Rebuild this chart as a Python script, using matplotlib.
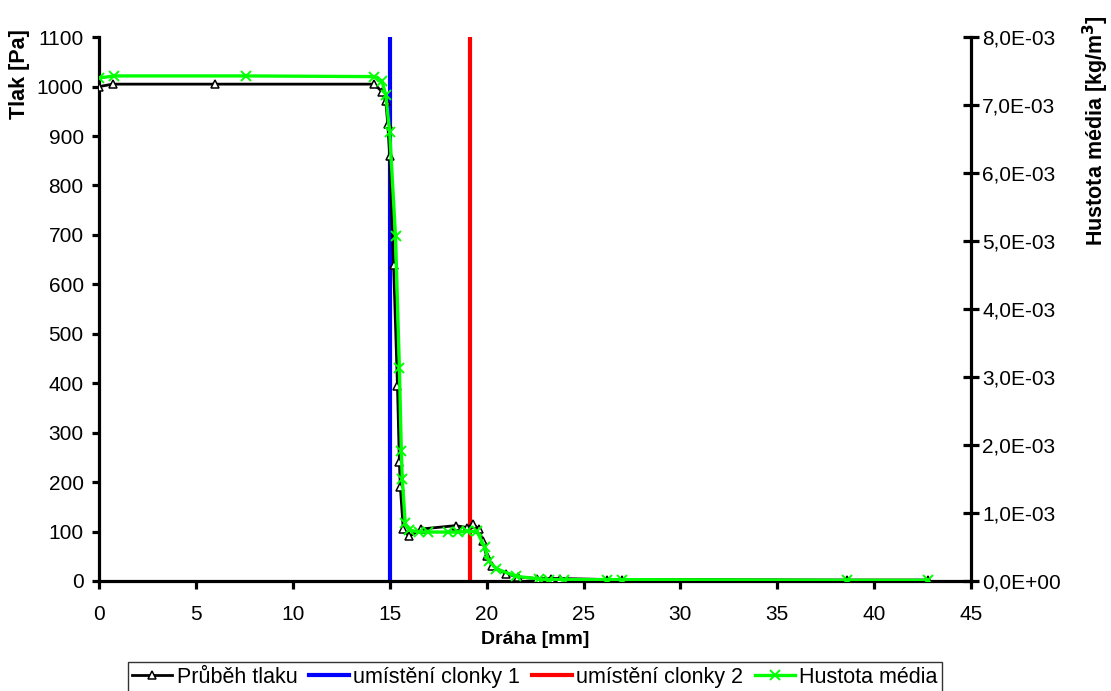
import matplotlib
matplotlib.use("Agg")
import matplotlib.pyplot as plt
from matplotlib.ticker import FuncFormatter, MultipleLocator

plt.rcParams['font.family'] = ['Liberation Sans', 'DejaVu Sans']

# Pressure (Průběh tlaku)
p_x = [0.0, 0.7, 6.0, 14.2, 14.6, 14.8, 14.9, 15.0, 15.2, 15.4, 15.5, 15.55,
       15.7, 16.0, 16.6, 18.4, 19.0, 19.3, 19.6, 19.8, 20.0, 20.3, 21.0, 21.6,
       22.6, 23.3, 23.8, 26.2, 27.0, 38.6, 42.8]
p_y = [1000, 1005, 1005, 1005, 990, 970, 925, 860, 640, 395, 240, 190,
       105, 90, 105, 112, 108, 115, 105, 80, 50, 30, 15, 8,
       5, 5, 5, 3, 3, 2, 2]

# Density (Hustota média)
d_x = [0.0, 0.8, 7.6, 14.2, 14.6, 14.8, 15.0, 15.3, 15.5, 15.6, 15.65, 15.8,
       16.0, 16.5, 17.0, 18.0, 18.5, 19.0, 19.5, 19.9, 20.1, 20.5, 21.5, 22.7,
       23.2, 24.0, 26.2, 27.0, 38.6, 42.8]
d_y = [7.40e-3, 7.43e-3, 7.43e-3, 7.42e-3, 7.35e-3, 7.15e-3, 6.60e-3, 5.07e-3,
       3.13e-3, 1.91e-3, 1.50e-3, 0.85e-3, 0.75e-3, 0.72e-3, 0.72e-3, 0.72e-3,
       0.72e-3, 0.73e-3, 0.73e-3, 0.50e-3, 0.30e-3, 0.18e-3, 0.07e-3, 0.03e-3,
       0.02e-3, 0.02e-3, 0.02e-3, 0.02e-3, 0.01e-3, 0.01e-3]

clonka1_x = 15.0
clonka2_x = 19.15


def sci_comma(v, pos):
    s = '%.1E' % v
    if abs(v) < 1e-12:
        s = '0.0E+00'
    return s.replace('.', ',')


fig = plt.figure(figsize=(11.11, 6.91), dpi=100)
ax = fig.add_axes([0.0891, 0.1592, 0.785, 0.787])
ax2 = ax.twinx()

l1, = ax.plot(p_x, p_y, color='black', lw=2.0, marker='^', ms=6,
              mfc='white', mec='black', mew=1.1, label='Průběh tlaku', zorder=3)
l2, = ax.plot([clonka1_x, clonka1_x], [0, 1100], color='#0000ff', lw=3,
              label='umístění clonky 1', zorder=2)
l3, = ax.plot([clonka2_x, clonka2_x], [0, 1100], color='#ff0000', lw=3,
              label='umístění clonky 2', zorder=2)
l4, = ax2.plot(d_x, d_y, color='#00ff00', lw=2.4, marker='x', ms=7, mew=1.4,
               label='Hustota média', zorder=4)

ax.set_xlim(0, 45)
ax.set_ylim(0, 1100)
ax2.set_ylim(0, 8e-3)
ax.xaxis.set_major_locator(MultipleLocator(5))
ax.yaxis.set_major_locator(MultipleLocator(100))
ax2.yaxis.set_major_locator(MultipleLocator(1e-3))
ax2.yaxis.set_major_formatter(FuncFormatter(sci_comma))

for a in (ax, ax2):
    a.spines['top'].set_visible(False)
    for s in a.spines.values():
        s.set_linewidth(2.3)
ax.spines['right'].set_visible(False)
ax2.spines['left'].set_visible(False)
ax2.spines['bottom'].set_visible(False)

ax.tick_params(axis='y', direction='out', length=5, width=2.3, labelsize=15, pad=6)
ax.tick_params(axis='x', direction='out', length=6, width=2.3, labelsize=15, pad=11)
ax2.tick_params(axis='y', direction='inout', length=12, width=2.3, labelsize=15, pad=2)

ax.set_xlabel('Dráha [mm]', fontsize=14, fontweight='bold')
ax.set_ylabel('Tlak [Pa]', fontsize=15.5, fontweight='bold')
ax2.set_ylabel('Hustota média [kg/m$^\\mathbf{3}$]', fontsize=15.5, fontweight='bold')
ax.yaxis.set_label_coords(-0.079, 0.932)
ax2.yaxis.set_label_coords(1.126, 0.828)
ax.xaxis.set_label_coords(0.5, -0.092)

leg = fig.legend(handles=[l1, l2, l3, l4], loc='center', ncol=4,
                 bbox_to_anchor=(0.4815, 0.02), fontsize=15.5, frameon=True,
                 fancybox=False, edgecolor='black', handlelength=1.85,
                 handletextpad=0.2, columnspacing=0.55, borderpad=0.2)
leg.get_frame().set_linewidth(1)

fig.savefig('out.png', dpi=100)
